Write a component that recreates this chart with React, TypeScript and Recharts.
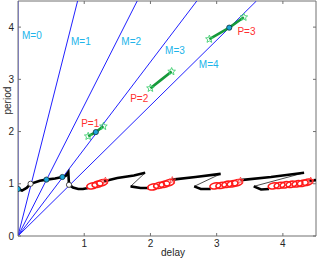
import { ComposedChart, Line, Scatter, XAxis, YAxis, ReferenceLine } from 'recharts';

// delay = 0.2 * M * period lines, drawn up to the top of the axes
const mValues = [0, 1, 2, 3, 4];
const topPeriod = 4.5;

// black solution branches (delay, period)
const black1 = [
  { x: 0, y: 0.9 }, { x: 0.06, y: 0.87 }, { x: 0.13, y: 0.92 }, { x: 0.19, y: 1.0 },
  { x: 0.33, y: 1.06 }, { x: 0.43, y: 1.08 }, { x: 0.56, y: 1.1 }, { x: 0.67, y: 1.13 },
  { x: 0.72, y: 1.15 }, { x: 0.76, y: 1.22 }, { x: 0.77, y: 0.98 }, { x: 0.83, y: 0.93 },
  { x: 0.91, y: 0.9 }, { x: 0.98, y: 0.9 }, { x: 1.06, y: 0.92 },
];
const black2 = [{ x: 1.3, y: 1.05 }, { x: 1.5, y: 1.11 }, { x: 1.75, y: 1.16 }, { x: 1.92, y: 1.21 }];
const black3 = [{ x: 1.7, y: 0.95 }, { x: 1.85, y: 0.92 }, { x: 1.97, y: 0.92 }];
const black4 = [{ x: 2.33, y: 1.08 }, { x: 2.68, y: 1.13 }, { x: 3.06, y: 1.19 }];
const black5 = [{ x: 2.66, y: 0.95 }, { x: 2.76, y: 0.9 }, { x: 2.91, y: 0.9 }];
const black6 = [{ x: 3.36, y: 1.07 }, { x: 3.82, y: 1.13 }, { x: 4.32, y: 1.21 }];
const black7 = [{ x: 3.56, y: 0.95 }, { x: 3.67, y: 0.89 }, { x: 3.79, y: 0.9 }];
const black8 = [{ x: 4.4, y: 1.06 }, { x: 4.5, y: 1.07 }];
const thinLinks = [
  [{ x: 1.92, y: 1.21 }, { x: 1.7, y: 0.95 }],
  [{ x: 3.06, y: 1.19 }, { x: 2.66, y: 0.95 }],
  [{ x: 4.32, y: 1.21 }, { x: 3.56, y: 0.95 }],
];

// red loop centres
const redLoops = [
  { x: 1.12, y: 0.96 }, { x: 1.2, y: 0.99 }, { x: 1.27, y: 1.02 },
  { x: 2.04, y: 0.94 }, { x: 2.13, y: 0.97 }, { x: 2.21, y: 0.99 }, { x: 2.28, y: 1.02 },
  { x: 2.98, y: 0.96 }, { x: 3.07, y: 0.97 }, { x: 3.16, y: 0.99 }, { x: 3.24, y: 1.0 }, { x: 3.31, y: 1.02 },
  { x: 3.86, y: 0.96 }, { x: 3.95, y: 0.97 }, { x: 4.04, y: 0.98 }, { x: 4.13, y: 0.99 },
  { x: 4.22, y: 1.0 }, { x: 4.3, y: 1.01 }, { x: 4.37, y: 1.03 },
];
const redStars = [{ x: 1.32, y: 1.06 }, { x: 2.33, y: 1.07 }, { x: 3.36, y: 1.06 }, { x: 4.42, y: 1.06 }];

// green period branches
const greenP1 = [{ x: 1.06, y: 1.91 }, { x: 1.175, y: 1.99 }, { x: 1.29, y: 2.1 }];
const greenP2 = [{ x: 2.0, y: 2.83 }, { x: 2.16, y: 2.99 }, { x: 2.32, y: 3.15 }];
const greenP3 = [{ x: 2.89, y: 3.77 }, { x: 3.19, y: 3.99 }, { x: 3.41, y: 4.19 }];
const greenStars = [
  { x: 1.06, y: 1.91 }, { x: 1.29, y: 2.1 }, { x: 2.0, y: 2.83 },
  { x: 2.32, y: 3.15 }, { x: 2.89, y: 3.77 }, { x: 3.41, y: 4.19 },
];

const cyanDots = [{ x: 0, y: 0.9 }, { x: 0.43, y: 1.08 }, { x: 0.67, y: 1.13 }, { x: 1.175, y: 1.99 }, { x: 3.19, y: 3.99 }];
const whiteDots = [{ x: 0.19, y: 1.0 }, { x: 0.77, y: 0.98 }];

const mLabels = [
  { x: 0.21, y: 3.83, text: 'M=0' }, { x: 0.95, y: 3.72, text: 'M=1' },
  { x: 1.71, y: 3.72, text: 'M=2' }, { x: 2.37, y: 3.56, text: 'M=3' },
  { x: 2.88, y: 3.28, text: 'M=4' },
];
const pLabels = [
  { x: 1.09, y: 2.15, text: 'P=1' }, { x: 1.83, y: 2.63, text: 'P=2' }, { x: 3.45, y: 3.92, text: 'P=3' },
];

const xTicks = [1, 2, 3, 4];
const yTicks = [0, 1, 2, 3, 4];

const W = 317;
const H = 259;
const M = { top: 1, right: 1, bottom: 0, left: 0 };
const Y_AXIS_W = 18;
const X_AXIS_H = 23;
const PLOT_W = W - M.left - M.right - Y_AXIS_W;
const PLOT_H = H - M.top - M.bottom - X_AXIS_H;
const FONT = '"Liberation Sans", Arial, sans-serif';
const AXIS = '#262626';
const FRAME = '#707070';

const mLines = mValues.map(m => [{ x: 0, y: 0 }, { x: 0.2 * m * topPeriod, y: topPeriod }]);

function XTick(props: any) {
  const { x, y, payload } = props;
  return (
    <g>
      <line x1={x} y1={y} x2={x} y2={y - 3} stroke={FRAME} />
      <line x1={x} y1={y - PLOT_H} x2={x} y2={y - PLOT_H + 3} stroke={FRAME} />
      <text x={x} y={y + 11} textAnchor="middle" fontSize={10} fill={AXIS} fontFamily={FONT}>{payload.value}</text>
    </g>
  );
}

function YTick(props: any) {
  const { x, y, payload } = props;
  return (
    <g>
      <line x1={x} y1={y} x2={x + 3} y2={y} stroke={FRAME} />
      <line x1={x + PLOT_W} y1={y} x2={x + PLOT_W - 3} y2={y} stroke={FRAME} />
      <text x={x - 4} y={y + 3.5} textAnchor="end" fontSize={10} fill={AXIS} fontFamily={FONT}>{payload.value}</text>
    </g>
  );
}

const star = (cx: number, cy: number, r: number) => {
  const pts: string[] = [];
  for (let i = 0; i < 10; i++) {
    const rr = i % 2 === 0 ? r : r * 0.45;
    const a = -Math.PI / 2 + (i * Math.PI) / 5;
    pts.push(`${cx + rr * Math.cos(a)},${cy + rr * Math.sin(a)}`);
  }
  return pts.join(' ');
};

const GreenStar = (p: any) => <polygon points={star(p.cx, p.cy, 4)} fill="none" stroke="#3fcf70" strokeWidth={0.9} />;
const RedStar = (p: any) => <polygon points={star(p.cx, p.cy, 3.5)} fill="none" stroke="#ff4040" strokeWidth={0.9} />;
const RedLoop = (p: any) => (
  <ellipse cx={p.cx} cy={p.cy} rx={5.5} ry={3} fill="none" stroke="#ff1a1a" strokeWidth={1.6}
    transform={`rotate(-12 ${p.cx} ${p.cy})`} />
);
const CyanDot = (p: any) => <circle cx={p.cx} cy={p.cy} r={2.6} fill="#1aa6d9" stroke="#10303a" strokeWidth={0.8} />;
const WhiteDot = (p: any) => <circle cx={p.cx} cy={p.cy} r={2.6} fill="#ffffff" stroke="#202020" strokeWidth={0.8} />;
const TextMark = (color: string) => (p: any) => (
  <text x={p.cx} y={p.cy + 3.5} textAnchor="middle" fontSize={10} fill={color} fontFamily={FONT}>{p.payload.text}</text>
);

export default function App() {
  const blackBranches = [black1, black2, black3, black4, black5, black6, black7, black8];
  return (
    <div style={{ position: 'absolute', left: 0, top: 0, width: W, height: H, background: '#fff' }}>
      <ComposedChart width={W} height={H} margin={M}>
        <XAxis type="number" dataKey="x" domain={[0, 4.5]} ticks={xTicks} allowDataOverflow
          height={X_AXIS_H} tickSize={0} tickMargin={0} tickLine={false} tick={<XTick />}
          axisLine={{ stroke: FRAME }}
          label={{ value: 'delay', position: 'insideBottom', offset: 3, dx: 6, fill: AXIS, fontSize: 10, fontFamily: FONT }} />
        <YAxis type="number" dataKey="y" domain={[0, 4.5]} ticks={yTicks} allowDataOverflow
          width={Y_AXIS_W} tickSize={0} tickMargin={0} tickLine={false} tick={<YTick />}
          axisLine={{ stroke: FRAME }}
          label={{ value: 'period', angle: -90, position: 'insideLeft', offset: 7, dy: -4, fill: AXIS, fontSize: 10, fontFamily: FONT }} />
        <ReferenceLine x={4.5} stroke={FRAME} />
        <ReferenceLine y={4.5} stroke={FRAME} />
        {mLines.map((d, i) => (
          <Line key={`m${i}`} data={d} dataKey="y" stroke="#2020ff" strokeWidth={1} dot={false} isAnimationActive={false} />
        ))}
        {thinLinks.map((d, i) => (
          <Line key={`t${i}`} data={d} dataKey="y" stroke="#000" strokeWidth={0.7} dot={false} isAnimationActive={false} />
        ))}
        {blackBranches.map((d, i) => (
          <Line key={`b${i}`} data={d} dataKey="y" stroke="#000" strokeWidth={2.6} dot={false} isAnimationActive={false} />
        ))}
        <Scatter data={redLoops} shape={RedLoop} isAnimationActive={false} />
        <Scatter data={redStars} shape={RedStar} isAnimationActive={false} />
        {[greenP1, greenP2, greenP3].map((d, i) => (
          <Line key={`g${i}`} data={d} dataKey="y" stroke="#16993a" strokeWidth={2.6} dot={false} isAnimationActive={false} />
        ))}
        <Scatter data={greenStars} shape={GreenStar} isAnimationActive={false} />
        <Scatter data={cyanDots} shape={CyanDot} isAnimationActive={false} />
        <Scatter data={whiteDots} shape={WhiteDot} isAnimationActive={false} />
        <Scatter data={mLabels} shape={TextMark('#20b4ea')} isAnimationActive={false} />
        <Scatter data={pLabels} shape={TextMark('#ff3030')} isAnimationActive={false} />
      </ComposedChart>
    </div>
  );
}
